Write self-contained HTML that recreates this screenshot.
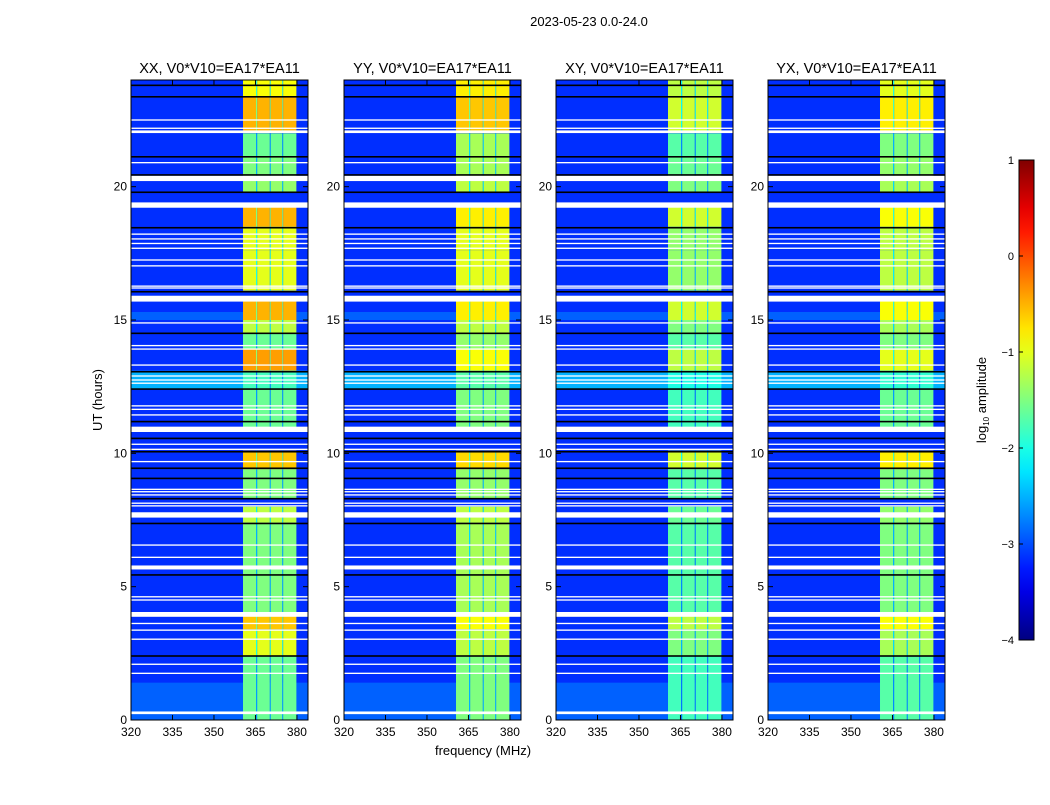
<!DOCTYPE html>
<html><head><meta charset="utf-8"><style>
body{margin:0;background:#fff;}
svg text{font-family:"Liberation Sans",sans-serif;fill:#000;}
</style></head><body>
<svg id="fig" width="1050" height="800" xmlns="http://www.w3.org/2000/svg">
<rect width="1050" height="800" fill="#fff"/>
<text x="589" y="26" font-size="13" text-anchor="middle">2023-05-23 0.0-24.0</text>
<text x="483" y="755" font-size="13" text-anchor="middle">frequency (MHz)</text>
<text transform="translate(102,400) rotate(-90)" font-size="13" text-anchor="middle">UT (hours)</text>
<g id="panels"></g>
<g id="cbar"></g>
</svg>
<script>
// ---- data ----
const panelTitles = ["XX, V0*V10=EA17*EA11","YY, V0*V10=EA17*EA11","XY, V0*V10=EA17*EA11","YX, V0*V10=EA17*EA11"];
const xTicks = [320,335,350,365,380];
const yTicks = [0,5,10,15,20];
const cbTicks = [1,0,-1,-2,-3,-4];
const subbandStart = [360.5,365.6,370.5,375.0];
const subbandEnd   = [365.2,370.2,374.7,379.8];
const segStart = [23.4,22.1,21.1,20.4,19.8,18.5,17.6,16.1,15.0,14.5,13.9,13.1,12.4,10.9,9.4,8.3,7.4,4.0,3.4,2.4,0.0];
const segEnd   = [24.0,23.4,22.0,21.1,20.3,19.3,18.5,17.6,15.7,15.0,14.5,13.9,13.1,12.4,10.1,9.4,8.0,7.4,4.0,3.4,2.4];
const levelXX  = [-0.9,-0.5,-1.6,-1.5,-1.4,-0.5,-1.0,-1.0,-0.5,-1.2,-1.6,-0.4,-1.8,-1.6,-0.6,-1.5,-1.2,-1.5,-0.6,-1.0,-1.6];
const levelYY  = [-0.8,-0.6,-1.3,-1.3,-1.2,-0.8,-1.0,-1.0,-0.8,-1.2,-1.4,-0.9,-1.7,-1.5,-0.7,-1.4,-1.2,-1.3,-0.9,-1.2,-1.5];
const levelXY  = [-1.2,-1.1,-1.7,-1.6,-1.5,-1.1,-1.4,-1.4,-1.1,-1.5,-1.7,-1.2,-2.0,-1.8,-1.1,-1.7,-1.6,-1.7,-1.2,-1.5,-1.8];
const levelYX  = [-1.0,-0.8,-1.5,-1.4,-1.3,-0.9,-1.2,-1.2,-0.9,-1.3,-1.5,-1.0,-1.9,-1.6,-0.8,-1.5,-1.4,-1.5,-0.9,-1.3,-1.7];
const panelLevels = [levelXX,levelYY,levelXY,levelYX];
const bgStart = [12.4,0.0,15.0];
const bgEnd   = [13.1,1.4,15.3];
const bgLevel = [-2.5,-2.9,-2.9];
const whiteAt    = [22.5,22.19,22.06,20.9,20.31,19.31,18.22,18.04,17.87,17.69,17.25,17.03,16.27,16.2,15.8,14.89,14.04,13.91,13.31,12.9,12.75,12.63,11.78,11.65,11.44,10.9,10.34,10.15,9.69,8.65,8.56,8.44,8.13,8.03,7.69,6.56,6.1,5.72,4.62,4.5,3.96,3.62,3.37,3.03,2.09,1.75,0.27];
const whiteWidth = [0.05,0.05,0.1,0.05,0.2,0.2,0.05,0.05,0.05,0.05,0.05,0.05,0.05,0.05,0.22,0.05,0.05,0.05,0.05,0.05,0.05,0.05,0.05,0.05,0.05,0.2,0.05,0.05,0.05,0.05,0.05,0.05,0.05,0.05,0.2,0.05,0.05,0.15,0.05,0.05,0.18,0.05,0.05,0.05,0.05,0.05,0.1];
const blackAt = [23.8,23.37,21.12,20.44,19.79,18.46,16.06,14.5,13.06,12.41,11.19,10.56,10.06,9.44,9.06,8.3,7.37,5.44,2.4];

// ---- geometry ----
const panelX = [131,344,556,768], PW=177, PT=80, PB=720;
const fMin=320, fMax=384, tMax=24;
const NS="http://www.w3.org/2000/svg";
function jet(v){
  v=Math.max(0,Math.min(1,v));
  const c=x=>Math.round(255*Math.max(0,Math.min(1,x)));
  return `rgb(${c(1.5-Math.abs(4*v-3))},${c(1.5-Math.abs(4*v-2))},${c(1.5-Math.abs(4*v-1))})`;
}
const lvlColor = l => jet((l+4)/5);
function mk(tag,attrs,parent){const e=document.createElementNS(NS,tag);for(const k in attrs)e.setAttribute(k,attrs[k]);parent.appendChild(e);return e;}

const panels=document.getElementById('panels');
panelTitles.forEach((title,p)=>{
  const x0=panelX[p];
  const sx=f=>x0+(f-fMin)/(fMax-fMin)*PW;
  const sy=t=>PB-t/tMax*(PB-PT);
  const g=mk('g',{},panels);
  
  
  const hm=mk('g',{},g);
  
  
  mk('rect',{x:x0,y:PT,width:PW,height:PB-PT,fill:lvlColor(-3.15)},hm);
  bgStart.forEach((s,i)=>{
    mk('rect',{x:x0,y:sy(bgEnd[i]),width:PW,height:sy(s)-sy(bgEnd[i]),fill:lvlColor(bgLevel[i])},hm);
  });
  const lv=panelLevels[p];
  segStart.forEach((s,i)=>{
    subbandStart.forEach((b,j)=>{
      const r=mk('rect',{x:sx(b),y:sy(segEnd[i]),width:sx(subbandEnd[j])-sx(b),height:sy(s)-sy(segEnd[i]),fill:lvlColor(lv[i])},hm);
      
      
    });
    for(let j=0;j<subbandStart.length-1;j++){
      mk('rect',{x:sx(subbandEnd[j]),y:sy(segEnd[i]),width:sx(subbandStart[j+1])-sx(subbandEnd[j]),height:sy(s)-sy(segEnd[i]),fill:lvlColor(lv[i]-1.0)},hm);
    }
  });
  whiteAt.forEach((t,i)=>{
    const h=Math.max(1.3,whiteWidth[i]/tMax*(PB-PT));
    mk('rect',{x:x0,y:sy(t)-h/2,width:PW,height:h,fill:'#fff'},hm);
  });
  blackAt.forEach(t=>{
    mk('rect',{x:x0,y:sy(t)-0.8,width:PW,height:1.6,fill:'#000'},hm);
  });
  const fr=mk('rect',{x:x0,y:PT,width:PW,height:PB-PT,fill:'none',stroke:'#000','stroke-width':1},g);
  
  
  const tt=mk('text',{x:x0+PW/2,y:PT-7,'font-size':14.5,'text-anchor':'middle'},g);
  tt.textContent=title;
  
  
  xTicks.forEach(f=>{
    const x=sx(f);
    mk('line',{x1:x,x2:x,y1:PB,y2:PB-5,stroke:'#000'},g);
    mk('line',{x1:x,x2:x,y1:PT,y2:PT+5,stroke:'#000'},g);
    const t=mk('text',{x:x,y:PB+16,'font-size':12,'text-anchor':'middle'},g);
    t.textContent=f;
    
    
  });
  yTicks.forEach(v=>{
    const y=sy(v);
    mk('line',{x1:x0,x2:x0+5,y1:y,y2:y,stroke:'#000'},g);
    mk('line',{x1:x0+PW,x2:x0+PW-5,y1:y,y2:y,stroke:'#000'},g);
    const t=mk('text',{x:x0-4,y:y+4,'font-size':12,'text-anchor':'end'},g);
    t.textContent=v;
    
    
  });
});

// colorbar
const cb=document.getElementById('cbar');
const CX=1019,CW=15,CT=160,CB=640;
const defs=mk('defs',{},cb);
const grad=mk('linearGradient',{id:'jetg',x1:0,y1:1,x2:0,y2:0},defs);
for(let i=0;i<=20;i++) mk('stop',{offset:i/20,'stop-color':jet(i/20)},grad);
mk('rect',{x:CX,y:CT,width:CW,height:CB-CT,fill:'url(#jetg)',stroke:'#000','stroke-width':1},cb);
cbTicks.forEach(v=>{
  const y=CB-(v+4)/5*(CB-CT);
  mk('line',{x1:CX,x2:CX+4,y1:y,y2:y,stroke:'#000'},cb);
  const t=mk('text',{x:CX-5,y:y+4,'font-size':11,'text-anchor':'end'},cb);
  t.textContent=(v<0?'\u2212'+(-v):v);
  
  
});
const cl=mk('text',{transform:'translate(986,400) rotate(-90)','font-size':13,'text-anchor':'middle'},cb);
cl.innerHTML='log<tspan font-size="8" dy="3">10</tspan><tspan dy="-3"> amplitude</tspan>';


</script>
</body></html>
